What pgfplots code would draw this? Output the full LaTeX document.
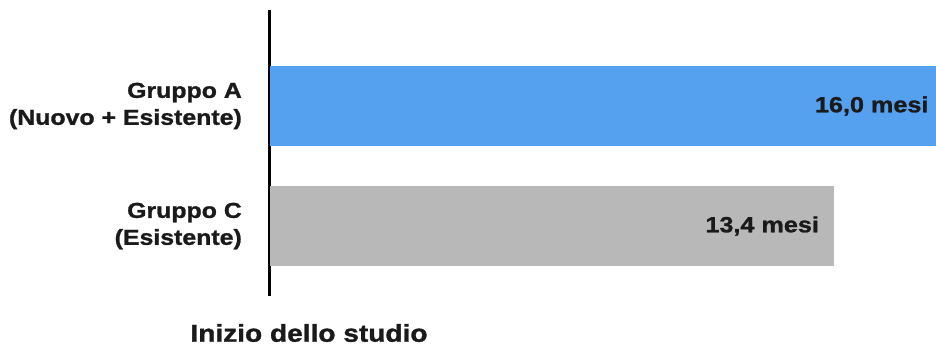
\documentclass[border=0pt]{standalone}
\usepackage{pgfplots}
\pgfplotsset{compat=1.18}
\usepackage{fontspec}
\setmainfont{Liberation Sans}[FakeStretch=1.15, BoldFeatures={FakeBold=1.2}]
\definecolor{barblue}{RGB}{86,160,240}
\definecolor{bargray}{RGB}{184,184,184}
\definecolor{txt}{RGB}{26,26,26}
\begin{document}
\begin{tikzpicture}
\begin{axis}[
  name=ax,
  scale only axis, width=674bp, height=286bp,
  xbar, bar width=80bp, bar shift=0pt,
  xmin=0, xmax=16, ymin=-0.583, ymax=1.8,
  axis x line=none,
  axis y line=left,
  axis line style={-, line width=3bp, black},
  ytick={0,1},
  yticklabels={{Gruppo C\\(Esistente)},{Gruppo A\\(Nuovo + Esistente)}},
  yticklabel style={align=right, inner sep=0pt, xshift=-28bp, text=txt,
    font=\bfseries\fontsize{21.7}{27}\selectfont},
  major tick length=0pt,
  clip=false,
  /pgf/number format/assume math mode=true,
  nodes near coords={\pgfmathprintnumber[fixed, fixed zerofill, precision=1, use comma, assume math mode=true]{\pgfplotspointmeta}\ mesi},
  every node near coord/.append style={anchor=east, xshift=-12bp, text=txt,
    font=\bfseries\fontsize{22}{26}\selectfont},
]
\addplot[fill=barblue, draw=none] coordinates {(16.0,1)};
\addplot[fill=bargray, draw=none] coordinates {(13.4,0)};
\end{axis}
\node[font=\bfseries\fontsize{24.5}{30}\selectfont, text=txt] at ([shift={(39bp,-37bp)}]ax.south west) {Inizio dello studio};
\pgfresetboundingbox
\path[use as bounding box] ([shift={(-270bp,-51bp)}]ax.south west) rectangle ([shift={(-8bp,10bp)}]ax.north east);
\end{tikzpicture}
\end{document}
